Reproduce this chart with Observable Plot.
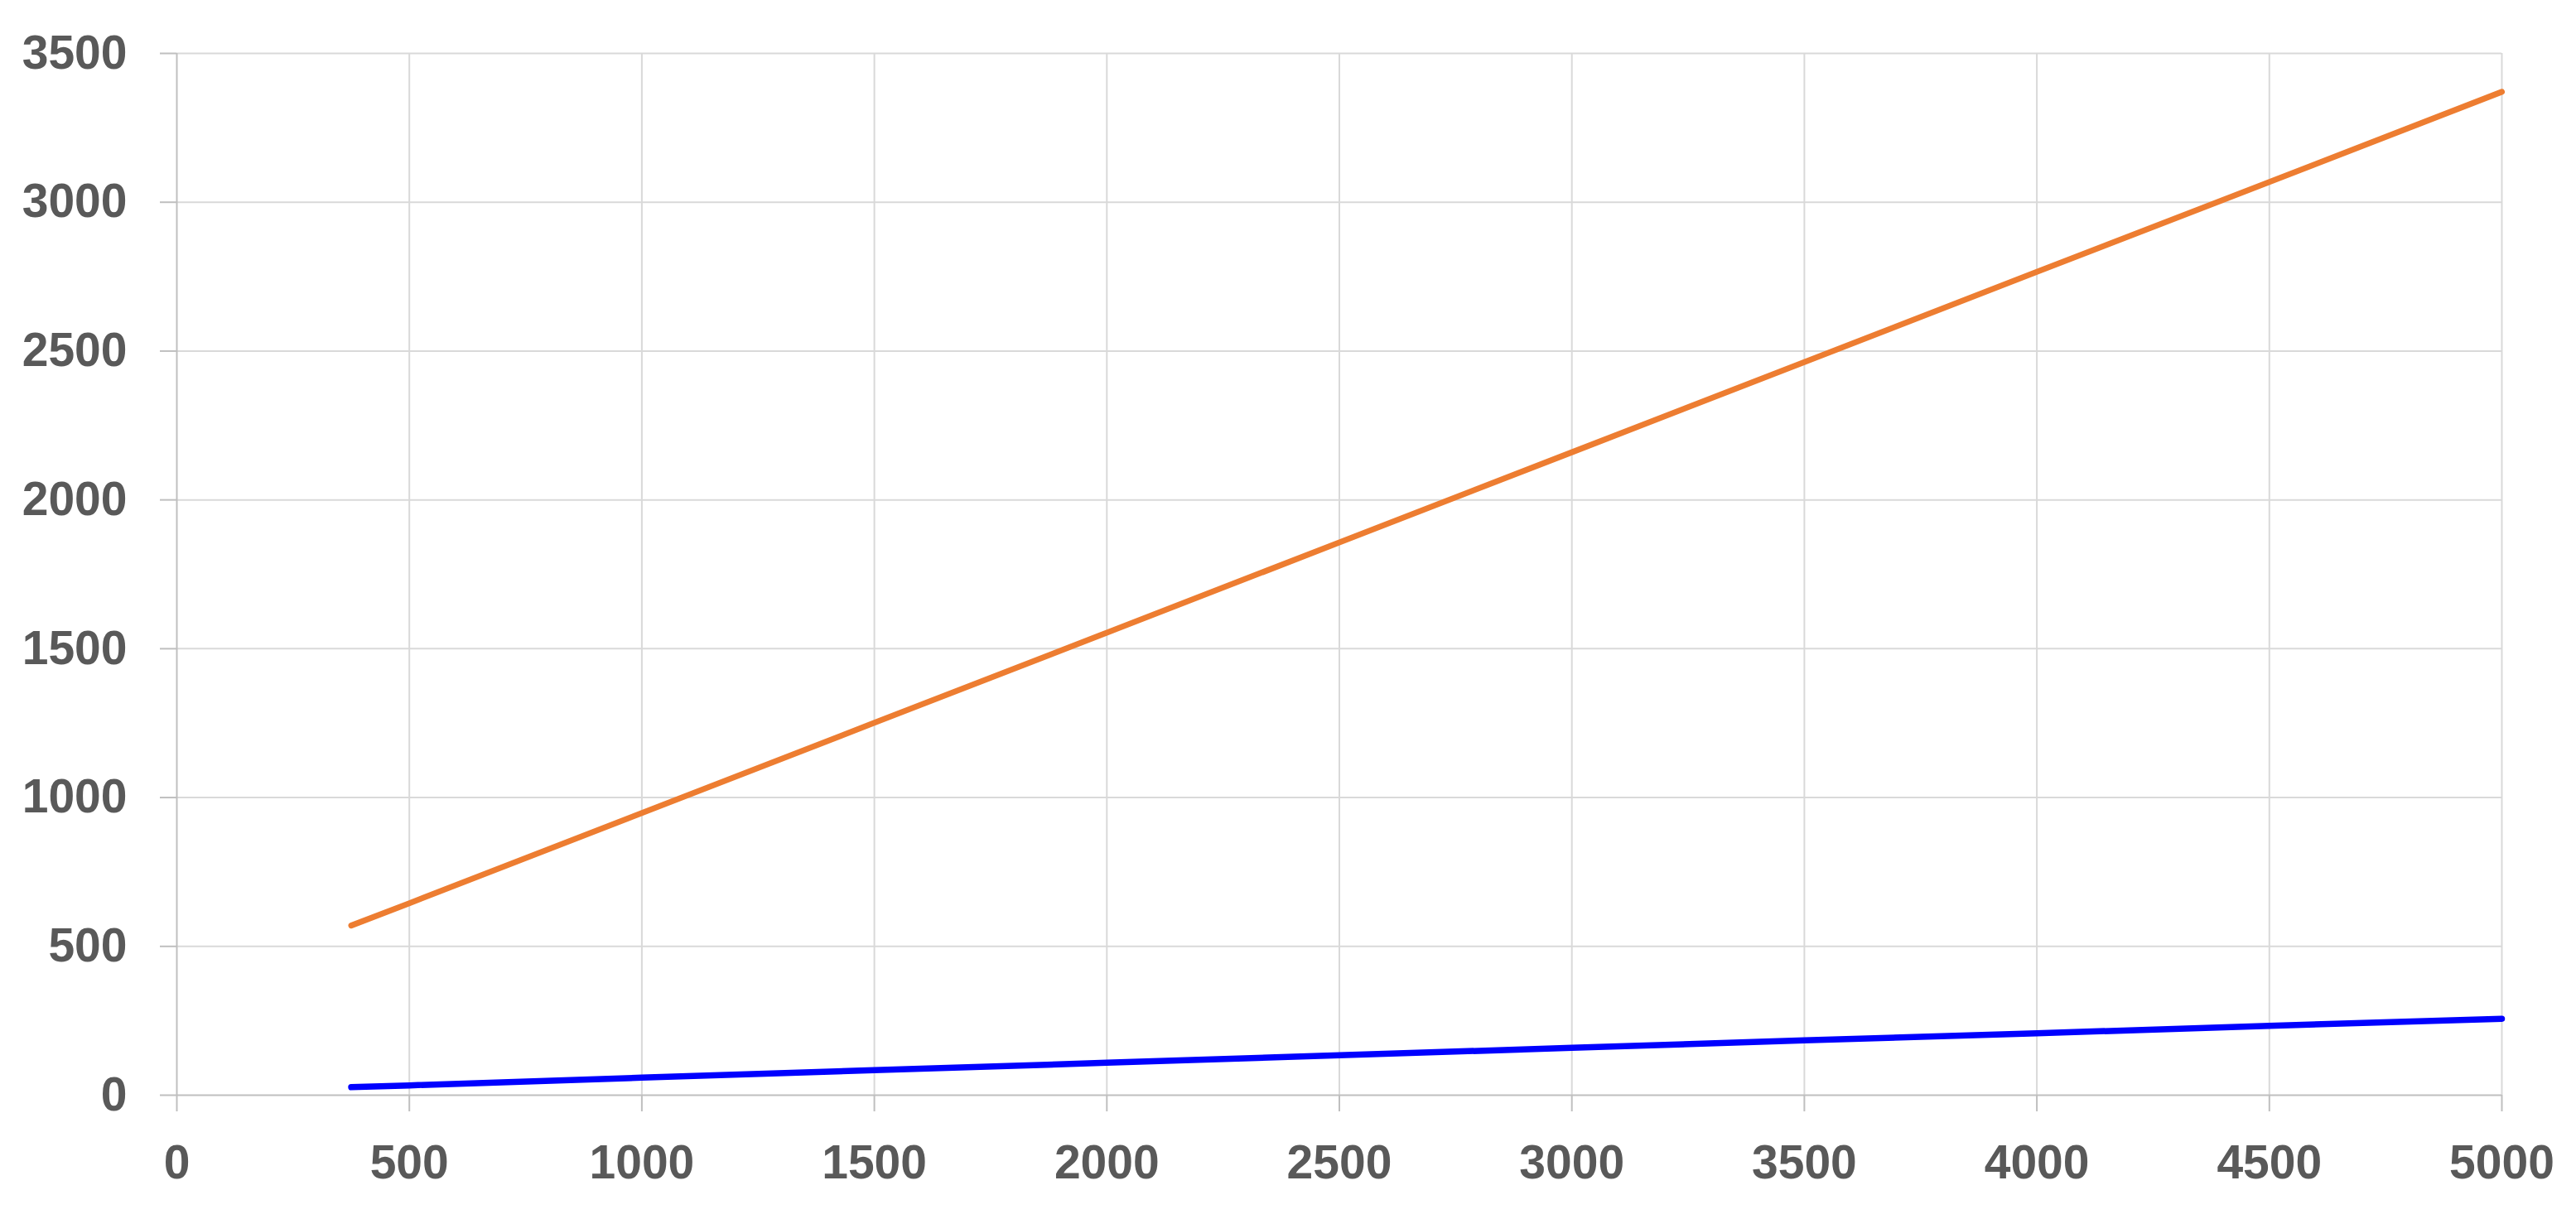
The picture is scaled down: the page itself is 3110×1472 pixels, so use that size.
<!DOCTYPE html>
<html>
<head>
<meta charset="utf-8">
<script src="https://cdn.jsdelivr.net/npm/d3@7"></script>
<script src="https://cdn.jsdelivr.net/npm/@observablehq/plot@0.6"></script>
<style>
  html, body { margin: 0; padding: 0; background: #ffffff; }
  #chart svg { display: block; }
</style>
</head>
<body>
<div id="chart"></div>
<script>
// ---- Data ----
const xValues      = [375, 500, 1000, 1500, 2000, 2500, 3000, 3500, 4000, 4500, 5000];
const orangeValues = [570, 645, 948, 1251, 1554, 1857, 2160, 2463, 2766, 3068, 3371];
const blueValues   = [27, 33, 59, 84, 109, 134, 159, 184, 208, 233, 257];
const xTicks = [0, 500, 1000, 1500, 2000, 2500, 3000, 3500, 4000, 4500, 5000];
const yTicks = [0, 500, 1000, 1500, 2000, 2500, 3000, 3500];

const orangeRows = xValues.map((x, i) => ({x, y: orangeValues[i]}));
const blueRows   = xValues.map((x, i) => ({x, y: blueValues[i]}));

const textStyle = {fill: "#595959", fontSize: 57, fontWeight: "bold", fontFamily: "Liberation Sans, Arial, sans-serif"};

const chart = Plot.plot({
  width: 3110,
  height: 1472,
  marginLeft: 213,
  marginRight: 90,
  marginTop: 64,
  marginBottom: 150,
  style: {background: "#ffffff", fontFamily: "Liberation Sans, Arial, sans-serif", fontSize: "57px", fontWeight: "bold", color: "#595959"},
  x: {type: "linear", domain: [0, 5000]},
  y: {type: "linear", domain: [0, 3500]},
  marks: [
    Plot.gridX(xTicks.filter(d => d !== 0), {stroke: "#d9d9d9", strokeOpacity: 1, strokeWidth: 2}),
    Plot.gridY(yTicks.filter(d => d !== 0), {stroke: "#d9d9d9", strokeOpacity: 1, strokeWidth: 2}),
    Plot.ruleX([0], {stroke: "#bfbfbf", strokeWidth: 2}),
    Plot.ruleY([0], {stroke: "#bfbfbf", strokeWidth: 2}),
    Plot.axisX(xTicks, {tickSize: 20, tickPadding: 40, stroke: "#bfbfbf", strokeWidth: 2, tickFormat: d => String(d), label: null, ...textStyle}),
    Plot.axisY(yTicks, {tickSize: 20, tickPadding: 40, stroke: "#bfbfbf", strokeWidth: 2, tickFormat: d => String(d), label: null, ...textStyle}),
    Plot.line(orangeRows, {x: "x", y: "y", stroke: "#ED7D31", strokeWidth: 7, strokeLinecap: "round"}),
    Plot.line(blueRows, {x: "x", y: "y", stroke: "#0000FF", strokeWidth: 7.5, strokeLinecap: "round"})
  ]
});
document.getElementById("chart").appendChild(chart);
</script>
</body>
</html>
